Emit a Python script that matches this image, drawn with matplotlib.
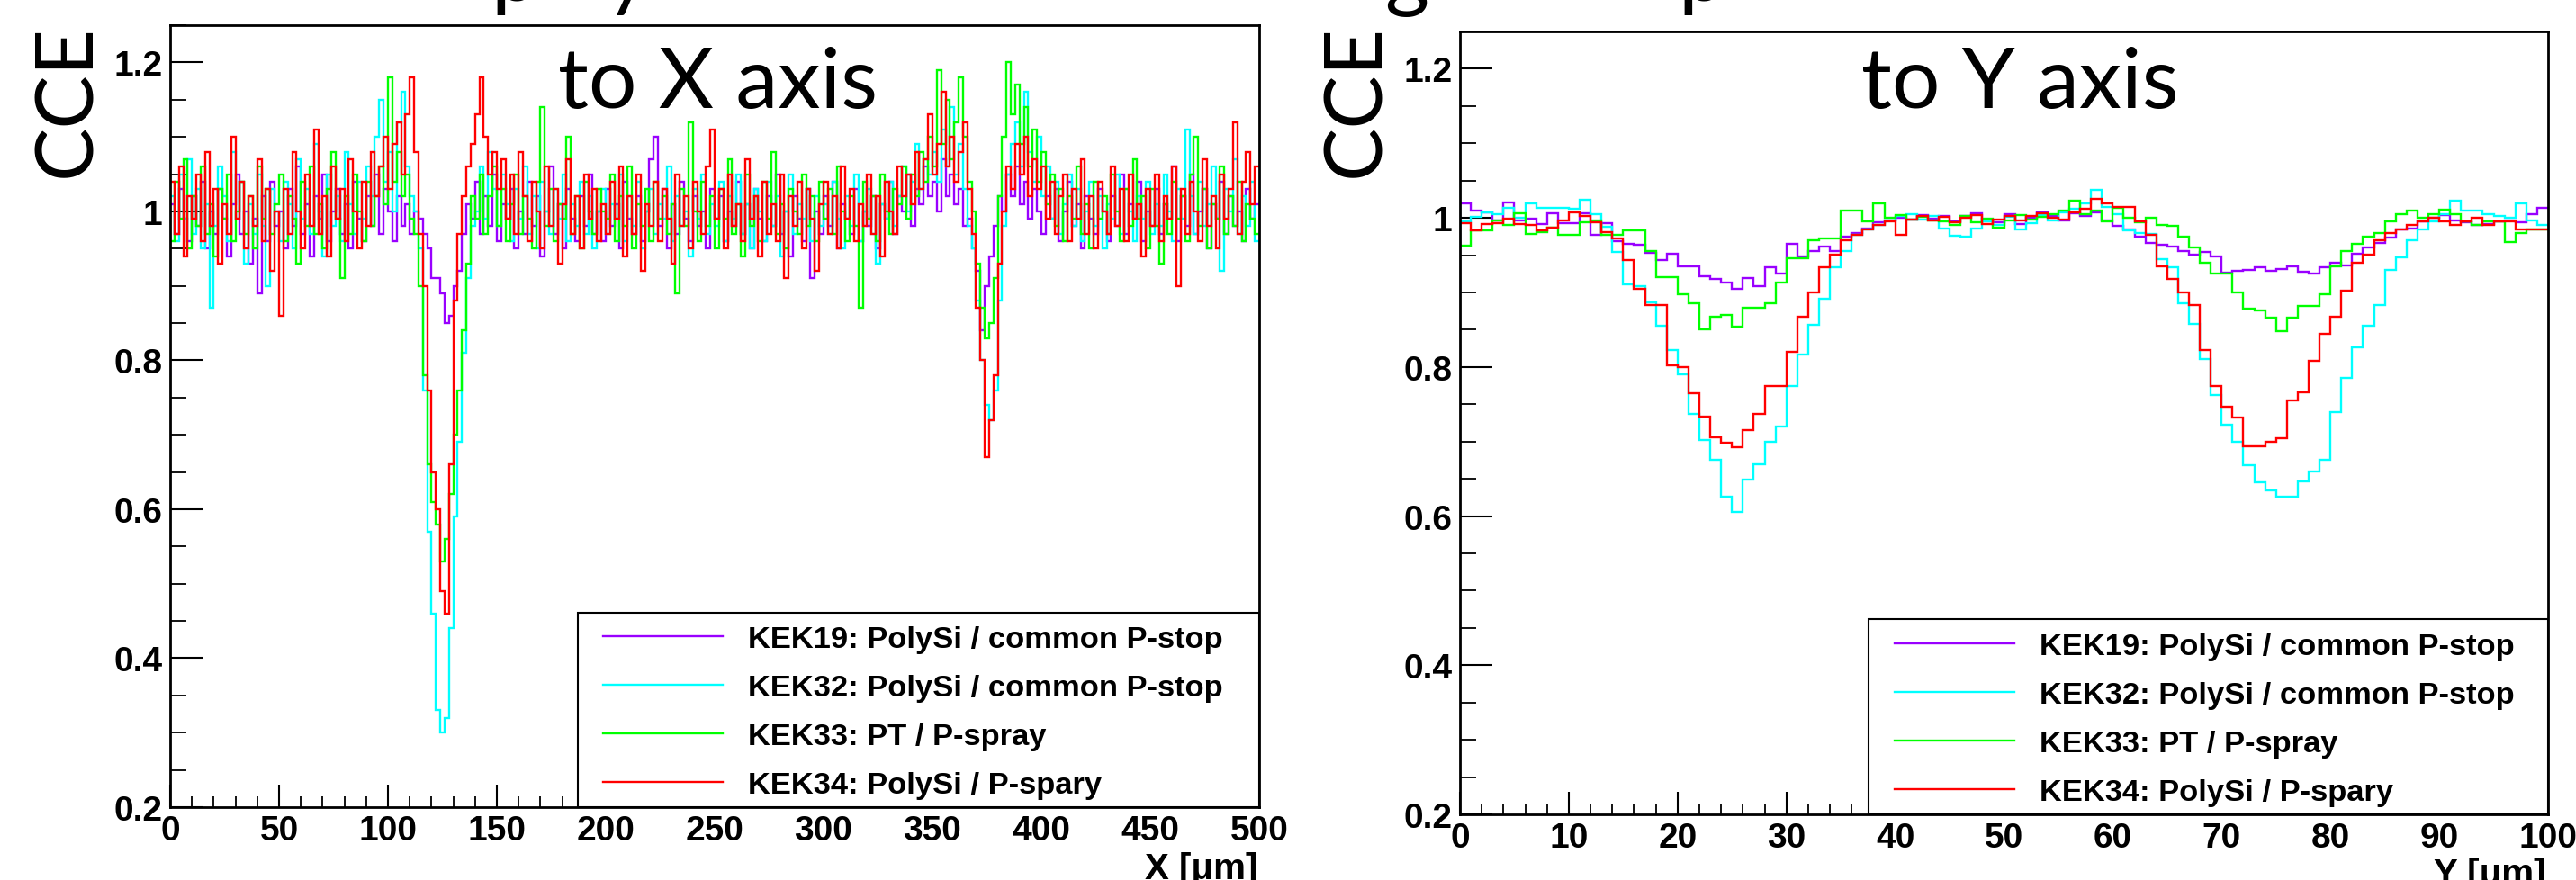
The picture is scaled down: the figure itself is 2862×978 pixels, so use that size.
import numpy as np
import matplotlib
matplotlib.use("Agg")
import matplotlib.pyplot as plt
from matplotlib.lines import Line2D
from matplotlib.patches import Rectangle
from matplotlib.ticker import FixedLocator, MultipleLocator, FixedFormatter

# ---------------- data ----------------
series_names = ["KEK19: PolySi / common P-stop",
                "KEK32: PolySi / common P-stop",
                "KEK33: PT / P-spray",
                "KEK34: PolySi / P-spary"]
series_colors = ["#9900ff", "#00ffff", "#00ff00", "#ff0000"]

x_bin_width = 2.0   # um, projection to X axis (0..500)
y_bin_width = 1.0   # um, projection to Y axis (0..100)

kek19_x = [
 1.01, 0.97, 1.03, 0.99, 0.96, 1.02, 0.98, 1.04, 0.95, 1.00, 0.97, 1.03, 0.99, 0.94, 1.01, 1.05, 0.97, 1.00, 0.93, 0.99, 0.89, 1.02, 0.96, 1.04, 0.98,
 1.00, 0.95, 1.03, 0.98, 1.06, 0.97, 1.01, 0.94, 1.02, 0.99, 1.05, 0.96, 1.00, 1.03, 0.97, 1.01, 0.95, 1.04, 0.99, 0.96, 1.02, 0.98, 1.05, 0.97, 1.03,
 1.00, 0.96, 1.02, 0.98, 1.01, 0.97, 1.00, 0.99, 0.97, 0.95, 0.91, 0.91, 0.89, 0.85, 0.86, 0.90, 0.92, 0.97, 1.01, 0.99, 1.04, 0.97, 1.02, 0.98, 1.05,
 0.96, 1.01, 0.99, 1.03, 0.95, 1.00, 0.97, 1.04, 0.98, 1.02, 0.94, 1.00, 1.06, 0.97, 1.01, 0.95, 1.03, 0.99, 0.96, 1.02, 0.98, 1.05, 0.97, 1.00, 0.96,
 1.03, 0.98, 1.01, 0.95, 1.04, 0.99, 0.97, 1.02, 0.96, 1.00, 1.07, 1.10, 0.98, 1.03, 0.95, 1.01, 0.97, 1.04, 0.99, 0.96, 1.02, 0.98, 1.00, 0.95, 1.03,
 0.99, 1.02, 0.96, 1.00, 0.98, 1.04, 0.97, 1.01, 0.95, 1.03, 0.99, 0.96, 1.02, 0.98, 1.05, 0.97, 1.00, 0.94, 1.02, 0.99, 0.96, 1.03, 0.91, 1.00, 0.97,
 1.02, 0.98, 1.04, 0.95, 1.01, 0.99, 0.97, 1.03, 0.96, 1.00, 0.98, 1.02, 0.95, 1.01, 0.99, 1.04, 0.97, 1.02, 1.00, 1.05, 0.98, 1.03, 1.01, 1.06, 1.02,
 1.04, 1.00, 1.07, 1.02, 1.05, 1.01, 1.03, 0.98, 0.99, 0.95, 0.92, 0.84, 0.90, 0.94, 0.98, 1.02, 1.00, 1.05, 1.02, 1.06, 1.01, 1.04, 0.99, 1.03, 1.00,
 0.97, 1.02, 0.99, 1.03, 0.96, 1.00, 1.04, 0.98, 1.01, 0.95, 1.02, 0.99, 0.97, 1.03, 1.00, 0.96, 1.02, 0.98, 1.05, 0.97, 1.01, 0.99, 1.04, 0.96, 1.00,
 0.98, 1.03, 0.97, 1.01, 0.99, 1.06, 0.96, 1.02, 0.98, 1.05, 0.97, 1.00, 1.03, 0.95, 1.01, 0.99, 1.04, 0.97, 1.02, 0.98, 1.00, 0.96, 1.03, 0.99, 1.01,
]
kek32_x = [
 1.02, 0.96, 1.05, 0.99, 1.07, 0.97, 1.03, 0.95, 1.01, 0.87, 0.98, 1.06, 1.02, 0.96, 1.08, 0.99, 1.04, 0.93, 1.01, 0.97, 1.05, 0.98, 0.90, 1.03, 1.00,
 0.96, 1.04, 1.01, 0.95, 1.07, 0.99, 1.03, 0.97, 1.09, 1.00, 0.94, 1.05, 0.98, 1.02, 0.96, 1.08, 1.01, 0.97, 1.04, 0.99, 1.06, 1.02, 1.10, 1.15, 1.04,
 1.08, 1.00, 1.12, 1.16, 1.06, 1.02, 1.00, 0.95, 0.76, 0.57, 0.46, 0.33, 0.30, 0.32, 0.44, 0.59, 0.69, 0.81, 0.91, 0.98, 1.00, 1.06, 0.99, 1.08, 1.03,
 0.98, 1.05, 1.01, 0.96, 1.03, 0.99, 1.06, 0.97, 1.02, 0.95, 1.04, 1.00, 0.97, 1.03, 0.99, 1.05, 0.96, 1.01, 0.98, 1.04, 0.97, 1.02, 0.95, 1.00, 1.03,
 0.97, 1.01, 0.99, 1.05, 0.96, 1.02, 0.98, 1.04, 0.95, 1.00, 1.03, 0.97, 1.01, 0.99, 1.06, 0.96, 1.02, 0.98, 1.00, 0.94, 1.03, 0.99, 1.05, 0.97, 1.01,
 0.98, 1.04, 0.96, 1.02, 0.99, 1.05, 0.97, 1.01, 0.95, 1.03, 1.00, 0.96, 1.04, 0.98, 1.02, 0.94, 1.00, 1.05, 0.97, 1.01, 0.99, 1.03, 0.96, 1.02, 0.98,
 1.01, 0.97, 1.04, 0.99, 0.95, 1.02, 0.98, 1.05, 0.96, 1.00, 1.03, 0.97, 0.93, 1.01, 0.99, 1.04, 0.98, 1.02, 1.06, 1.00, 1.04, 1.09, 1.03, 1.07, 1.05,
 1.08, 1.04, 1.11, 1.06, 1.14, 1.05, 1.09, 1.03, 0.98, 0.95, 0.88, 0.80, 0.74, 0.72, 0.76, 0.88, 0.98, 1.05, 1.09, 1.12, 1.06, 1.16, 1.08, 1.04, 1.10,
 1.02, 1.06, 0.99, 1.04, 0.97, 1.01, 1.05, 0.98, 1.03, 0.96, 1.00, 1.04, 0.98, 1.02, 0.95, 1.01, 0.99, 1.05, 0.97, 1.03, 1.00, 0.96, 1.02, 0.99, 1.04,
 0.97, 1.01, 0.98, 1.05, 1.00, 0.96, 1.03, 0.99, 1.11, 1.02, 0.97, 1.04, 0.98, 1.01, 1.06, 0.99, 0.92, 1.03, 1.00, 1.07, 0.97, 1.02, 0.98, 1.04, 0.96,
]
kek33_x = [
 0.96, 1.04, 0.99, 1.07, 0.95, 1.02, 0.98, 1.06, 0.97, 1.01, 0.94, 1.03, 0.99, 1.05, 0.96, 1.00, 1.04, 0.97, 1.02, 0.95, 1.06, 0.99, 1.03, 0.97, 1.01,
 1.05, 0.96, 1.02, 0.99, 0.93, 1.04, 0.98, 1.06, 0.97, 1.01, 0.95, 1.03, 1.08, 0.99, 0.91, 1.02, 0.97, 1.05, 1.00, 0.96, 1.04, 0.98, 1.02, 1.06, 1.01,
 1.18, 1.04, 1.08, 1.02, 1.05, 0.99, 0.97, 0.90, 0.78, 0.66, 0.61, 0.58, 0.53, 0.56, 0.62, 0.70, 0.76, 0.84, 0.93, 1.02, 0.99, 1.05, 0.97, 1.02, 1.06,
 0.98, 1.03, 0.96, 1.01, 1.05, 0.97, 1.02, 0.99, 0.95, 1.04, 1.14, 0.98, 1.03, 0.96, 1.01, 0.99, 1.10, 0.97, 1.02, 0.95, 1.04, 1.00, 0.97, 1.03, 1.00,
 0.99, 1.05, 0.96, 1.02, 0.98, 1.06, 0.95, 1.01, 0.98, 1.03, 0.96, 1.04, 0.99, 1.02, 0.97, 1.01, 0.89, 1.03, 0.98, 1.12, 1.00, 0.96, 1.04, 0.98, 1.02,
 0.95, 1.03, 0.99, 1.07, 0.97, 1.01, 0.94, 1.05, 0.98, 1.02, 0.96, 1.04, 0.99, 1.08, 0.97, 1.01, 0.95, 1.03, 1.00, 0.97, 1.05, 0.98, 1.02, 0.96, 1.04,
 0.99, 1.03, 0.97, 1.06, 1.00, 0.96, 1.02, 0.98, 0.87, 1.04, 0.99, 1.02, 0.96, 1.05, 1.00, 0.97, 1.03, 1.01, 1.06, 0.99, 1.05, 1.02, 1.08, 1.04, 1.10,
 1.06, 1.19, 1.09, 1.15, 1.07, 1.12, 1.18, 1.10, 1.04, 1.00, 0.93, 0.87, 0.83, 0.85, 0.91, 1.02, 1.10, 1.20, 1.13, 1.17, 1.09, 1.14, 1.06, 1.11, 1.04,
 1.08, 1.01, 1.05, 0.98, 1.03, 0.96, 1.02, 0.99, 1.06, 0.97, 1.01, 0.95, 1.04, 0.99, 1.02, 0.97, 1.05, 1.00, 0.96, 1.03, 0.98, 1.07, 0.99, 1.02, 0.95,
 1.03, 0.98, 0.93, 1.01, 0.97, 1.04, 0.99, 1.02, 0.96, 1.05, 1.10, 0.98, 1.03, 0.95, 1.01, 0.99, 1.06, 0.97, 1.02, 0.98, 1.04, 0.96, 1.01, 0.99, 0.97,
]
kek34_x = [
 1.04, 0.97, 1.06, 0.94, 1.02, 0.99, 1.05, 0.96, 1.08, 0.98, 1.03, 0.93, 1.01, 0.97, 1.10, 0.99, 1.04, 0.95, 1.02, 0.98, 1.07, 0.96, 1.03, 0.92, 1.00,
 0.86, 1.03, 0.97, 1.08, 1.00, 0.95, 1.05, 0.98, 1.11, 0.97, 1.02, 0.94, 1.06, 0.99, 1.03, 0.96, 1.07, 1.00, 0.95, 1.04, 0.98, 1.08, 1.02, 1.06, 1.10,
 1.03, 1.09, 1.12, 1.05, 1.13, 1.18, 1.08, 0.97, 0.90, 0.76, 0.65, 0.60, 0.49, 0.46, 0.66, 0.88, 0.97, 1.02, 1.06, 1.09, 1.13, 1.18, 1.10, 1.05, 1.08,
 1.03, 1.07, 0.99, 1.05, 0.97, 1.08, 1.02, 0.96, 1.04, 1.00, 0.95, 1.06, 0.98, 1.03, 0.93, 1.01, 1.07, 0.97, 1.02, 0.95, 1.05, 0.99, 1.03, 0.96, 1.01,
 0.97, 1.04, 0.99, 1.06, 0.94, 1.02, 0.97, 1.05, 0.92, 1.01, 0.98, 1.04, 0.96, 1.03, 0.99, 0.93, 1.05, 0.98, 1.02, 0.95, 1.04, 1.00, 0.97, 1.06, 1.11,
 0.99, 1.03, 0.95, 1.05, 0.98, 1.01, 0.96, 1.07, 0.99, 1.02, 0.94, 1.04, 0.97, 1.01, 0.96, 1.05, 0.91, 1.02, 0.98, 1.04, 0.95, 1.03, 0.99, 0.92, 1.01,
 1.04, 0.97, 1.02, 0.95, 1.06, 0.99, 1.03, 0.96, 1.01, 0.98, 1.05, 0.97, 1.02, 0.94, 1.04, 1.00, 0.97, 1.06, 1.02, 1.05, 1.01, 1.08, 1.03, 1.07, 1.13,
 1.05, 1.09, 1.16, 1.06, 1.10, 1.04, 1.08, 1.12, 1.03, 0.97, 0.87, 0.80, 0.67, 0.72, 0.78, 0.93, 1.00, 1.06, 1.03, 1.09, 1.05, 1.10, 1.02, 1.07, 1.03,
 1.06, 0.99, 1.04, 0.97, 1.02, 1.05, 0.96, 1.03, 0.99, 1.07, 0.97, 1.02, 0.95, 1.04, 1.00, 0.97, 1.06, 0.98, 1.03, 0.96, 1.05, 0.99, 1.01, 0.94, 1.03,
 0.98, 1.05, 0.96, 1.02, 0.99, 1.06, 0.90, 1.03, 0.97, 1.04, 1.00, 0.96, 1.07, 0.98, 1.02, 0.95, 1.05, 0.99, 1.03, 1.12, 0.97, 1.04, 1.08, 1.01, 1.06,
]

kek19_y = [
 1.019, 1.010, 1.007, 0.996, 1.021, 0.997, 0.999, 0.992, 1.006, 0.993, 0.993, 1.006, 0.977, 0.993, 0.969, 0.965, 0.964, 0.953, 0.943, 0.952,
 0.935, 0.935, 0.922, 0.918, 0.913, 0.905, 0.919, 0.908, 0.934, 0.925, 0.965, 0.948, 0.955, 0.961, 0.956, 0.975, 0.980, 0.986, 0.994, 0.996,
 1.000, 0.998, 1.004, 0.999, 1.003, 0.995, 1.002, 1.006, 0.997, 0.994, 1.005, 0.992, 1.000, 1.008, 1.003, 0.997, 1.006, 1.002, 1.007, 0.996,
 0.989, 0.984, 0.975, 0.966, 0.964, 0.961, 0.955, 0.951, 0.954, 0.948, 0.927, 0.929, 0.930, 0.934, 0.929, 0.931, 0.935, 0.928, 0.925, 0.934,
 0.940, 0.936, 0.952, 0.960, 0.966, 0.974, 0.985, 0.986, 0.995, 1.000, 1.004, 0.996, 0.994, 0.990, 0.992, 0.995, 0.996, 0.994, 1.005, 1.013,
]
kek32_y = [
 0.995, 1.001, 1.007, 1.005, 1.014, 1.000, 1.019, 1.014, 1.013, 1.013, 1.012, 1.024, 1.005, 0.988, 0.954, 0.911, 0.908, 0.887, 0.855, 0.823,
 0.790, 0.737, 0.702, 0.675, 0.626, 0.606, 0.649, 0.669, 0.700, 0.720, 0.774, 0.817, 0.857, 0.891, 0.934, 0.955, 0.977, 0.985, 0.990, 0.996,
 1.003, 1.005, 0.998, 1.002, 0.986, 0.976, 0.975, 0.986, 0.995, 0.990, 1.001, 0.985, 0.993, 1.004, 0.996, 1.008, 1.012, 1.020, 1.038, 1.015,
 1.005, 0.983, 0.980, 0.978, 0.945, 0.934, 0.885, 0.858, 0.811, 0.762, 0.722, 0.700, 0.668, 0.645, 0.634, 0.626, 0.626, 0.647, 0.660, 0.675,
 0.740, 0.785, 0.826, 0.855, 0.883, 0.930, 0.947, 0.970, 0.985, 0.995, 1.005, 1.023, 1.010, 1.010, 1.005, 1.003, 1.000, 1.019, 0.996, 0.990,
]
kek33_y = [
 0.963, 0.983, 0.983, 0.996, 0.991, 1.006, 0.979, 0.981, 0.987, 0.977, 0.977, 0.994, 0.996, 0.977, 0.977, 0.983, 0.983, 0.956, 0.920, 0.920,
 0.897, 0.885, 0.851, 0.868, 0.870, 0.854, 0.879, 0.880, 0.885, 0.913, 0.946, 0.946, 0.970, 0.972, 0.972, 1.010, 1.010, 0.995, 1.019, 1.000,
 1.004, 0.998, 1.001, 0.996, 0.995, 0.990, 1.002, 0.994, 0.999, 0.987, 0.996, 1.004, 0.998, 1.001, 1.005, 1.010, 1.023, 1.005, 1.010, 0.995,
 1.013, 1.000, 0.994, 1.000, 0.990, 0.989, 0.975, 0.960, 0.940, 0.925, 0.925, 0.900, 0.878, 0.876, 0.866, 0.848, 0.866, 0.882, 0.882, 0.898,
 0.935, 0.955, 0.965, 0.975, 0.980, 0.995, 1.005, 1.010, 1.000, 1.005, 1.011, 1.005, 0.995, 0.990, 0.995, 0.995, 0.967, 0.980, 0.985, 0.985,
]
kek34_y = [
 0.993, 0.983, 0.992, 0.993, 0.999, 0.992, 0.990, 0.983, 0.987, 0.996, 1.008, 1.002, 0.994, 0.981, 0.972, 0.944, 0.905, 0.883, 0.883, 0.802,
 0.800, 0.765, 0.734, 0.706, 0.698, 0.693, 0.715, 0.737, 0.774, 0.775, 0.820, 0.868, 0.900, 0.934, 0.951, 0.970, 0.977, 0.985, 0.990, 0.995,
 0.977, 0.998, 1.003, 0.996, 1.001, 0.994, 1.000, 1.004, 0.992, 0.998, 1.002, 0.996, 1.003, 1.006, 1.000, 0.998, 1.008, 1.012, 1.026, 1.020,
 1.015, 1.015, 0.995, 0.977, 0.935, 0.918, 0.900, 0.883, 0.823, 0.774, 0.747, 0.732, 0.694, 0.694, 0.700, 0.705, 0.755, 0.766, 0.808, 0.845,
 0.868, 0.902, 0.940, 0.951, 0.970, 0.980, 0.985, 0.990, 0.995, 1.000, 0.995, 0.990, 0.995, 1.000, 0.990, 0.995, 0.995, 0.985, 0.985, 0.985,
]

x_panel_series = [kek19_x, kek32_x, kek33_x, kek34_x]
y_panel_series = [kek19_y, kek32_y, kek33_y, kek34_y]

left_xticks = [0, 50, 100, 150, 200, 250, 300, 350, 400, 450, 500]
right_xticks = [0, 10, 20, 30, 40, 50, 60, 70, 80, 90, 100]
yticks = [0.2, 0.4, 0.6, 0.8, 1.0, 1.2]
ytick_labels = ["0.2", "0.4", "0.6", "0.8", "1", "1.2"]

panel_titles = ["to X axis", "to Y axis"]
axis_titles = ["X [\u03bcm]", "Y [\u03bcm]"]
y_title = "CCE"

for s in x_panel_series:
    assert len(s) == 250, len(s)
for s in y_panel_series:
    assert len(s) == 100, len(s)

# ---------------- layout ----------------
W, H = 2862, 979
fig = plt.figure(figsize=(W / 100, H / 100), dpi=100)
fig.patch.set_facecolor("white")

def fx(px):
    return px / W

def fy(py):
    return 1 - py / H

# panel boxes in pixels: x0, top, x1, bottom
boxes = [(189, 29, 1399, 898), (1622, 36, 2831, 906)]
legend_frame = [(642, 682), (2076, 689)]
legend_anchor = [(670, 696), (2105, 704)]
title_pos = [(797, 120), (2244, 120)]
cce_pos = [(100, 197), (1532, 197)]
axtitle_pos = [(1397, 977), (2828, 983)]

tick_font = dict(family=["Liberation Sans", "DejaVu Sans"], weight="bold", size=28)
leg_size = 24.8
leg_font = dict(family=["Liberation Sans", "DejaVu Sans"], weight="bold", size=leg_size)
big_font = ["Lato", "DejaVu Sans"]
leg_px = leg_size * 100 / 72.0

panels = [
    (x_panel_series, x_bin_width, (0, 500), left_xticks, 10),
    (y_panel_series, y_bin_width, (0, 100), right_xticks, 2),
]

for k, (series, bw, xlim, xt, xminor) in enumerate(panels):
    x0, top, x1, bot = boxes[k]
    ax = fig.add_axes([fx(x0), fy(bot), (x1 - x0) / W, (bot - top) / H])
    for vals, col in zip(series, series_colors):
        vals = np.asarray(vals)
        edges = np.arange(len(vals) + 1) * bw
        ax.stairs(vals, edges, baseline=None, color=col, lw=1.7, zorder=2)
    ax.set_xlim(*xlim)
    ax.set_ylim(0.2, 1.25)

    for sp in ax.spines.values():
        sp.set_linewidth(2.0)

    ax.xaxis.set_major_locator(FixedLocator(xt))
    ax.xaxis.set_major_formatter(FixedFormatter([str(v) for v in xt]))
    ax.xaxis.set_minor_locator(MultipleLocator(xminor))
    ax.yaxis.set_major_locator(FixedLocator(yticks))
    ax.yaxis.set_major_formatter(FixedFormatter(ytick_labels))
    ax.yaxis.set_minor_locator(MultipleLocator(0.05))

    ax.tick_params(axis="x", which="major", direction="in", length=18, width=1.5,
                   pad=6, top=False, bottom=True)
    ax.tick_params(axis="x", which="minor", direction="in", length=8.6, width=1.3,
                   top=False, bottom=True)
    ax.tick_params(axis="y", which="major", direction="in", length=26, width=1.5,
                   pad=6, right=False, left=True)
    ax.tick_params(axis="y", which="minor", direction="in", length=13, width=1.3,
                   right=False, left=True)
    for lab in ax.get_xticklabels() + ax.get_yticklabels():
        lab.set_fontfamily(tick_font["family"])
        lab.set_fontweight("bold")
        lab.set_fontsize(tick_font["size"])

    # legend frame
    lf_x, lf_top = legend_frame[k]
    rx = (lf_x - x0) / (x1 - x0)
    rh = (bot - lf_top) / (bot - top)
    ax.add_patch(Rectangle((rx, 0), 1 - rx, rh, transform=ax.transAxes,
                           facecolor="white", edgecolor="black", lw=1.5, zorder=4))
    la_x, la_y = legend_anchor[k]
    handles = [Line2D([], [], color=c, lw=1.7) for c in series_colors]
    leg = ax.legend(handles, series_names, loc="upper left",
                    bbox_to_anchor=((la_x - x0) / (x1 - x0), (bot - la_y) / (bot - top)),
                    frameon=False, prop=leg_font, handlelength=133 / leg_px,
                    handletextpad=28 / leg_px, labelspacing=0.66, borderpad=0,
                    borderaxespad=0)
    leg.set_zorder(5)

    # panel title
    tx, ty = title_pos[k]
    fig.text(fx(tx), fy(ty), panel_titles[k], ha="center", va="baseline",
             fontsize=68, family=big_font)
    # y title
    cx, cy = cce_pos[k]
    fig.text(fx(cx), fy(cy), y_title, rotation=90, rotation_mode="anchor",
             ha="left", va="baseline", fontsize=64, family=big_font)
    # x title
    atx, aty = axtitle_pos[k]
    fig.text(fx(atx), fy(aty), axis_titles[k], ha="right", va="baseline",
             family=tick_font["family"], weight="bold", size=29)

# cut-off heading above the panels (only descenders are visible)
for ch, px in [("p", 545), ("y", 673), ("g", 1538), ("p", 1864)]:
    fig.text(fx(px), fy(1), ch, ha="left", va="baseline", fontsize=68, family=big_font)

fig.savefig("out.png", dpi=100, facecolor="white")
